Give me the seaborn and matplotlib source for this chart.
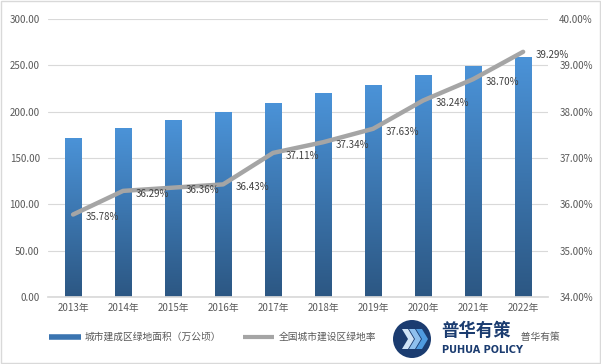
import numpy as np
import pandas as pd
import matplotlib
matplotlib.use("Agg")
import matplotlib.pyplot as plt
import seaborn as sns
from matplotlib.lines import Line2D
from matplotlib.patches import Ellipse, Polygon
from matplotlib.colors import LinearSegmentedColormap

years = ["2013年", "2014年", "2015年", "2016年", "2017年", "2018年", "2019年", "2020年", "2021年", "2022年"]
green_area = [171.9, 181.8, 190.8, 199.3, 209.7, 219.7, 228.5, 239.8, 249.3, 258.5]
green_rate = [35.78, 36.29, 36.36, 36.43, 37.11, 37.34, 37.63, 38.24, 38.70, 39.29]
left_ticks = [0, 50, 100, 150, 200, 250, 300]
right_ticks = [34, 35, 36, 37, 38, 39, 40]
legend_labels = ["城市建成区绿地面积（万公顷）", "全国城市建设区绿地率", "资料来源：住建部，普华有策"]

sns.set_theme(style="white")
plt.rcParams['font.family'] = ['Noto Sans CJK SC', 'DejaVu Sans']

df = pd.DataFrame({"year": years, "area": green_area, "rate": green_rate})

W, H = 601, 364
fig = plt.figure(figsize=(W / 100, H / 100), dpi=100)
ax = fig.add_axes([0.08, 0.184, 0.832, 0.764])
ax2 = ax.twinx()

tc = "#595959"
sns.barplot(data=df, x="year", y="area", ax=ax, color="#3f7fbf", width=0.32, zorder=2)
ax.set_xlabel("")
ax.set_ylabel("")
ax.set_yticks(left_ticks)
ax.set_yticklabels([f"{v:.2f}" for v in left_ticks], fontsize=7, color=tc)
ax.tick_params(axis="x", labelsize=7, colors=tc, length=0, pad=4)
ax.tick_params(axis="y", length=0, pad=6)
ax.grid(axis="y", color="#d9d9d9", linewidth=0.8, zorder=0)
for s in ax.spines.values():
    s.set_visible(False)
ax.spines["bottom"].set_visible(True)
ax.spines["bottom"].set_color("#d9d9d9")

# gradient fill on bars
cmap = LinearSegmentedColormap.from_list("g", ["#2c5783", "#4b93d8"])
grad = np.linspace(0, 1, 256).reshape(-1, 1)
for p in ax.patches:
    x0, y0 = p.get_x(), p.get_y()
    w, h = p.get_width(), p.get_height()
    p.set_facecolor("none")
    p.set_edgecolor("none")
    im = ax.imshow(grad, extent=[x0, x0 + w, y0, y0 + h], origin="lower",
                   cmap=cmap, aspect="auto", zorder=2)
    im.set_clip_path(p)
ax.set_xlim(-0.5, 9.5)
ax.set_ylim(0, 300)

sns.lineplot(x=np.arange(len(years)), y=green_rate, ax=ax2, color="#a5a5a5",
             linewidth=3.2, zorder=3, solid_capstyle="round")
ax2.set_ylim(34, 40)
ax2.set_yticks(right_ticks)
ax2.set_yticklabels([f"{v:.2f}%" for v in right_ticks], fontsize=7, color=tc)
ax2.tick_params(axis="y", length=0, pad=8)
for s in ax2.spines.values():
    s.set_visible(False)
ax2.set_ylabel("")
for i, v in enumerate(green_rate):
    ax2.annotate(f"{v:.2f}%", (i, v), xytext=(9, -2), textcoords="offset points",
                 ha="left", va="center", fontsize=7, color="#404040", zorder=4)

handles = [
    Line2D([0], [0], color="#3a74b0", linewidth=4, solid_capstyle="butt"),
    Line2D([0], [0], color="#a5a5a5", linewidth=3, solid_capstyle="butt"),
    Line2D([0], [0], color="#f2c12e", linewidth=2, solid_capstyle="butt"),
]
leg = fig.legend(handles, legend_labels, loc="center", bbox_to_anchor=(0.507, 0.074), ncol=3,
                 frameon=False, fontsize=7, labelcolor=tc, handlelength=3.2, columnspacing=2.3,
                 handletextpad=0.4)
leg.set_zorder(2)

# watermark logo (covers part of the legend, as in the reference)
def px(x, y):
    return (x / W, 1 - y / H)

navy = "#1b3c70"
fig.patches.append(plt.Rectangle(px(394, 362), 126 / W, 46 / H, transform=fig.transFigure,
                                 facecolor="white", edgecolor="none", zorder=8))
cx, cy, r = 412, 339, 19
fig.patches.append(Ellipse(px(cx, cy), 2 * r / W, 2 * r / H, transform=fig.transFigure,
                           facecolor=navy, edgecolor="none", zorder=9))
for k, col in enumerate(["#cfe3f7", "#8fc0ee", "#4f9be0"]):
    x0 = 402 + k * 7
    pts = [px(x0, 329), px(x0 + 6, 329), px(x0 + 12, 339), px(x0 + 6, 349), px(x0, 349), px(x0 + 6, 339)]
    fig.patches.append(Polygon(pts, closed=True, transform=fig.transFigure, facecolor=col,
                               edgecolor="none", zorder=10))
fig.text(*px(441, 331), "普华有策", fontsize=12.5, fontweight="bold", color=navy,
         ha="left", va="center", zorder=10)
fig.text(*px(442, 350), "PUHUA POLICY", fontsize=7, fontweight="bold", color=navy,
         ha="left", va="center", family=["DejaVu Sans"], zorder=10)

fig.patches.append(plt.Rectangle((0.002, 0.003), 0.996, 0.994, transform=fig.transFigure,
                                 fill=False, edgecolor="#d9d9d9", linewidth=1))
fig.savefig("out.png", dpi=100)
